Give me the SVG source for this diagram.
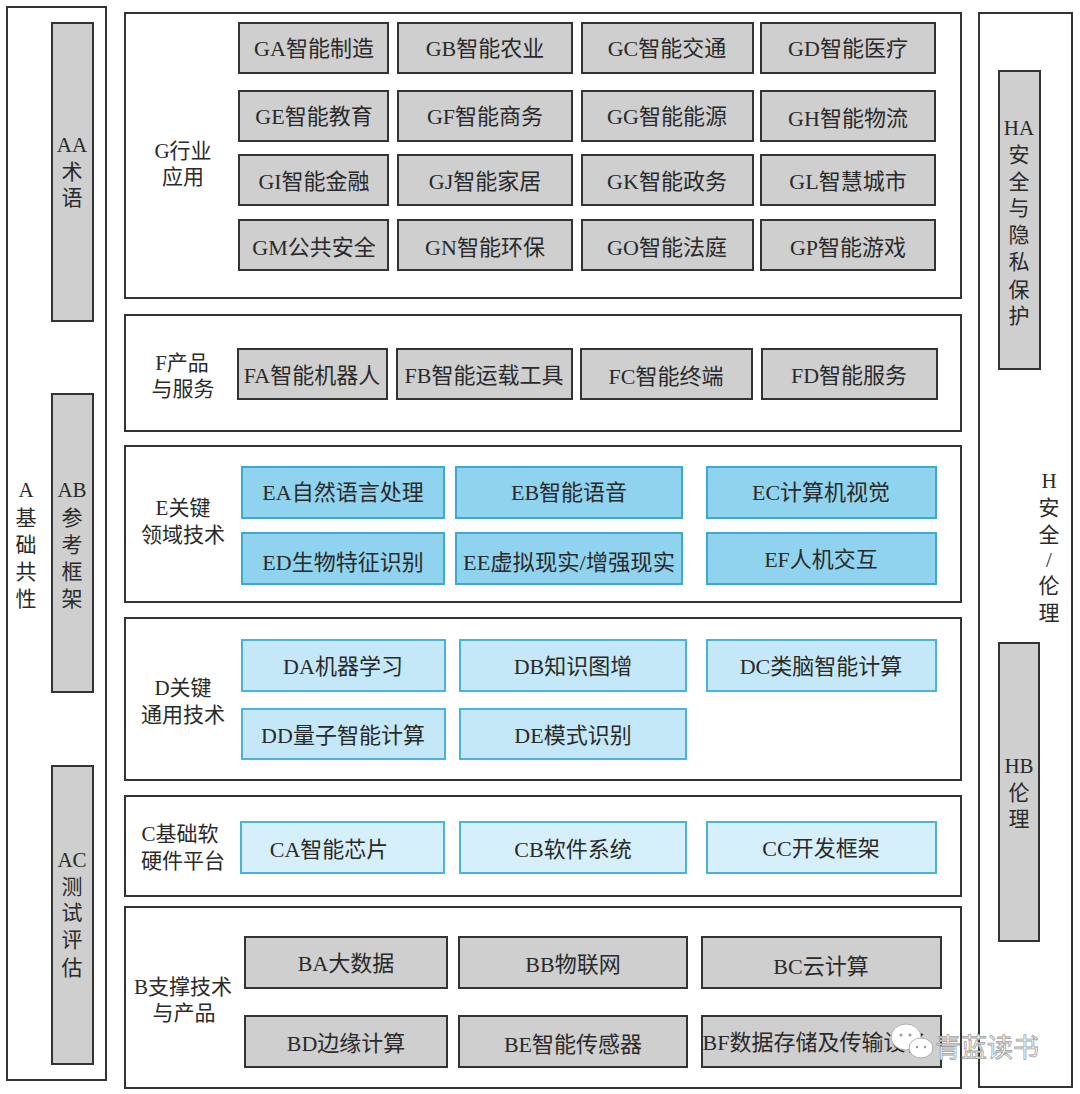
<svg xmlns="http://www.w3.org/2000/svg" width="1080" height="1094" viewBox="0 0 1080 1094">
<style>
.frame{fill:#fff;stroke:#333;stroke-width:2}
.gray{fill:#cfcfcf;stroke:#333;stroke-width:2}
.blueE{fill:#8fd3ef;stroke:#3aa9d3;stroke-width:2}
.blueD{fill:#c4e8f7;stroke:#4ab3db;stroke-width:2}
.blueC{fill:#d6f0fb;stroke:#4ab3db;stroke-width:2}
text{font-family:"Liberation Serif","Noto Sans CJK SC",serif;fill:#2a2a2a}
.t{font-size:22px;text-anchor:middle;dominant-baseline:central}
.l{font-size:21px;text-anchor:middle;dominant-baseline:central}
.v{font-size:21px;text-anchor:middle;dominant-baseline:central}
.wm{font-family:"Noto Sans CJK SC",sans-serif;font-size:26px;fill:#fff;stroke:#a0a0a0;stroke-width:0.8;dominant-baseline:central}
</style>
<rect width="1080" height="1094" fill="#fff"/>

<g id="A">
<rect class="frame" x="7" y="7" width="99" height="1073"/>
<text class="v" x="26"><tspan x="26" y="490">A</tspan><tspan x="26" y="518">基</tspan><tspan x="26" y="545">础</tspan><tspan x="26" y="572">共</tspan><tspan x="26" y="599">性</tspan></text>
</g>
<g id="AA">
<rect class="gray" x="52" y="23" width="41" height="298"/>
<text class="v"><tspan x="72" y="145">AA</tspan><tspan x="72" y="172">术</tspan><tspan x="72" y="198">语</tspan></text>
</g>
<g id="AB">
<rect class="gray" x="52" y="394" width="41" height="298"/>
<text class="v"><tspan x="72" y="490">AB</tspan><tspan x="72" y="518">参</tspan><tspan x="72" y="545">考</tspan><tspan x="72" y="572">框</tspan><tspan x="72" y="599">架</tspan></text>
</g>
<g id="AC">
<rect class="gray" x="52" y="766" width="41" height="298"/>
<text class="v"><tspan x="72" y="860">AC</tspan><tspan x="72" y="887">测</tspan><tspan x="72" y="913">试</tspan><tspan x="72" y="940">评</tspan><tspan x="72" y="968">估</tspan></text>
</g>

<g id="H">
<rect class="frame" x="979" y="13" width="93" height="1074"/>
<text class="v"><tspan x="1049" y="481">H</tspan><tspan x="1049" y="508">安</tspan><tspan x="1049" y="535">全</tspan><tspan x="1049" y="560">/</tspan><tspan x="1049" y="586">伦</tspan><tspan x="1049" y="613">理</tspan></text>
</g>
<g id="HA">
<rect class="gray" x="999" y="71" width="41" height="298"/>
<text class="v"><tspan x="1019" y="128">HA</tspan><tspan x="1019" y="155">安</tspan><tspan x="1019" y="182">全</tspan><tspan x="1019" y="208">与</tspan><tspan x="1019" y="235">隐</tspan><tspan x="1019" y="262">私</tspan><tspan x="1019" y="290">保</tspan><tspan x="1019" y="316">护</tspan></text>
</g>
<g id="HB">
<rect class="gray" x="999" y="643" width="40" height="298"/>
<text class="v"><tspan x="1019" y="766">HB</tspan><tspan x="1019" y="793">伦</tspan><tspan x="1019" y="819">理</tspan></text>
</g>

<g id="G">
<rect class="frame" x="125" y="13" width="836" height="285"/>
<text class="l" x="183" y="151">G行业</text>
<text class="l" x="183" y="177">应用</text>
</g>
<g id="GA"><rect class="gray" x="239" y="23" width="149" height="50"/><text class="t" x="314" y="48">GA智能制造</text></g>
<g id="GB"><rect class="gray" x="398" y="23" width="174" height="50"/><text class="t" x="485" y="48">GB智能农业</text></g>
<g id="GC"><rect class="gray" x="582" y="23" width="171" height="50"/><text class="t" x="667" y="48">GC智能交通</text></g>
<g id="GD"><rect class="gray" x="761" y="23" width="174" height="50"/><text class="t" x="848" y="48">GD智能医疗</text></g>
<g id="GE"><rect class="gray" x="239" y="91" width="149" height="50"/><text class="t" x="314" y="116">GE智能教育</text></g>
<g id="GF"><rect class="gray" x="398" y="91" width="174" height="50"/><text class="t" x="485" y="116">GF智能商务</text></g>
<g id="GG"><rect class="gray" x="582" y="91" width="171" height="50"/><text class="t" x="667" y="116">GG智能能源</text></g>
<g id="GH"><rect class="gray" x="761" y="91" width="174" height="50"/><text class="t" x="848" y="118">GH智能物流</text></g>
<g id="GI"><rect class="gray" x="239" y="155" width="149" height="50"/><text class="t" x="314" y="181">GI智能金融</text></g>
<g id="GJ"><rect class="gray" x="398" y="155" width="174" height="50"/><text class="t" x="485" y="181">GJ智能家居</text></g>
<g id="GK"><rect class="gray" x="582" y="155" width="171" height="50"/><text class="t" x="667" y="181">GK智能政务</text></g>
<g id="GL"><rect class="gray" x="761" y="155" width="174" height="50"/><text class="t" x="848" y="181">GL智慧城市</text></g>
<g id="GM"><rect class="gray" x="239" y="220" width="149" height="50"/><text class="t" x="314" y="247">GM公共安全</text></g>
<g id="GN"><rect class="gray" x="398" y="220" width="174" height="50"/><text class="t" x="485" y="247">GN智能环保</text></g>
<g id="GO"><rect class="gray" x="582" y="220" width="171" height="50"/><text class="t" x="667" y="247">GO智能法庭</text></g>
<g id="GP"><rect class="gray" x="761" y="220" width="174" height="50"/><text class="t" x="848" y="247">GP智能游戏</text></g>

<g id="F">
<rect class="frame" x="125" y="315" width="836" height="116"/>
<text class="l" x="182" y="363">F产品</text>
<text class="l" x="183" y="389">与服务</text>
</g>
<g id="FA"><rect class="gray" x="238" y="349" width="149" height="50"/><text class="t" x="312" y="375">FA智能机器人</text></g>
<g id="FB"><rect class="gray" x="397" y="349" width="175" height="50"/><text class="t" x="484" y="375">FB智能运载工具</text></g>
<g id="FC"><rect class="gray" x="581" y="349" width="171" height="50"/><text class="t" x="666" y="376">FC智能终端</text></g>
<g id="FD"><rect class="gray" x="762" y="349" width="175" height="50"/><text class="t" x="849" y="375">FD智能服务</text></g>

<g id="E">
<rect class="frame" x="125" y="446" width="836" height="156"/>
<text class="l" x="183" y="508">E关键</text>
<text class="l" x="183" y="535">领域技术</text>
</g>
<g id="EA"><rect class="blueE" x="242" y="467" width="202" height="51"/><text class="t" x="343" y="492">EA自然语言处理</text></g>
<g id="EB"><rect class="blueE" x="456" y="467" width="226" height="51"/><text class="t" x="569" y="492">EB智能语音</text></g>
<g id="EC"><rect class="blueE" x="707" y="467" width="229" height="51"/><text class="t" x="821" y="492">EC计算机视觉</text></g>
<g id="ED"><rect class="blueE" x="242" y="533" width="202" height="51"/><text class="t" x="343" y="562">ED生物特征识别</text></g>
<g id="EE"><rect class="blueE" x="456" y="533" width="226" height="51"/><text class="t" x="569" y="562" textLength="212" lengthAdjust="spacingAndGlyphs">EE虚拟现实/增强现实</text></g>
<g id="EF"><rect class="blueE" x="707" y="533" width="229" height="51"/><text class="t" x="821" y="559">EF人机交互</text></g>

<g id="D">
<rect class="frame" x="125" y="618" width="836" height="162"/>
<text class="l" x="183" y="688">D关键</text>
<text class="l" x="183" y="715">通用技术</text>
</g>
<g id="DA"><rect class="blueD" x="242" y="640" width="203" height="51"/><text class="t" x="343" y="666">DA机器学习</text></g>
<g id="DB"><rect class="blueD" x="460" y="640" width="226" height="51"/><text class="t" x="573" y="666">DB知识图增</text></g>
<g id="DC"><rect class="blueD" x="707" y="640" width="229" height="51"/><text class="t" x="821" y="666">DC类脑智能计算</text></g>
<g id="DD"><rect class="blueD" x="242" y="709" width="203" height="50"/><text class="t" x="343" y="735">DD量子智能计算</text></g>
<g id="DE"><rect class="blueD" x="460" y="709" width="226" height="50"/><text class="t" x="573" y="735">DE模式识别</text></g>

<g id="C">
<rect class="frame" x="125" y="796" width="836" height="100"/>
<text class="l" x="180" y="834">C基础软</text>
<text class="l" x="183" y="861">硬件平台</text>
</g>
<g id="CA"><rect class="blueC" x="241" y="822" width="203" height="51"/><text class="t" x="329" y="849">CA智能芯片</text></g>
<g id="CB"><rect class="blueC" x="460" y="822" width="226" height="51"/><text class="t" x="573" y="849">CB软件系统</text></g>
<g id="CC"><rect class="blueC" x="707" y="822" width="229" height="51"/><text class="t" x="821" y="848">CC开发框架</text></g>

<g id="B">
<rect class="frame" x="125" y="907" width="836" height="181"/>
<text class="l" x="183" y="987">B支撑技术</text>
<text class="l" x="184" y="1013">与产品</text>
</g>
<g id="BA"><rect class="gray" x="245" y="937" width="202" height="51"/><text class="t" x="346" y="963">BA大数据</text></g>
<g id="BB"><rect class="gray" x="459" y="937" width="228" height="51"/><text class="t" x="573" y="964">BB物联网</text></g>
<g id="BC"><rect class="gray" x="702" y="937" width="239" height="51"/><text class="t" x="821" y="966">BC云计算</text></g>
<g id="BD"><rect class="gray" x="245" y="1016" width="202" height="51"/><text class="t" x="346" y="1043">BD边缘计算</text></g>
<g id="BE"><rect class="gray" x="459" y="1016" width="228" height="51"/><text class="t" x="573" y="1044">BE智能传感器</text></g>
<g id="BF"><rect class="gray" x="702" y="1016" width="239" height="51"/><text class="t" x="815" y="1042">BF数据存储及传输设备</text></g>

<g id="connectors"></g>

<g id="watermark">
<ellipse cx="906" cy="1037" rx="15" ry="13" fill="#fff" stroke="#b0b0b0" stroke-width="1"/>
<ellipse cx="921" cy="1048" rx="12" ry="10" fill="#fff" stroke="#b0b0b0" stroke-width="1"/>
<circle cx="901" cy="1035" r="1.5" fill="#999"/>
<circle cx="910" cy="1035" r="1.5" fill="#999"/>
<circle cx="917" cy="1047" r="1.2" fill="#999"/>
<circle cx="925" cy="1047" r="1.2" fill="#999"/>
<text class="wm" x="935" y="1045">青蓝读书</text>
</g>
</svg>
